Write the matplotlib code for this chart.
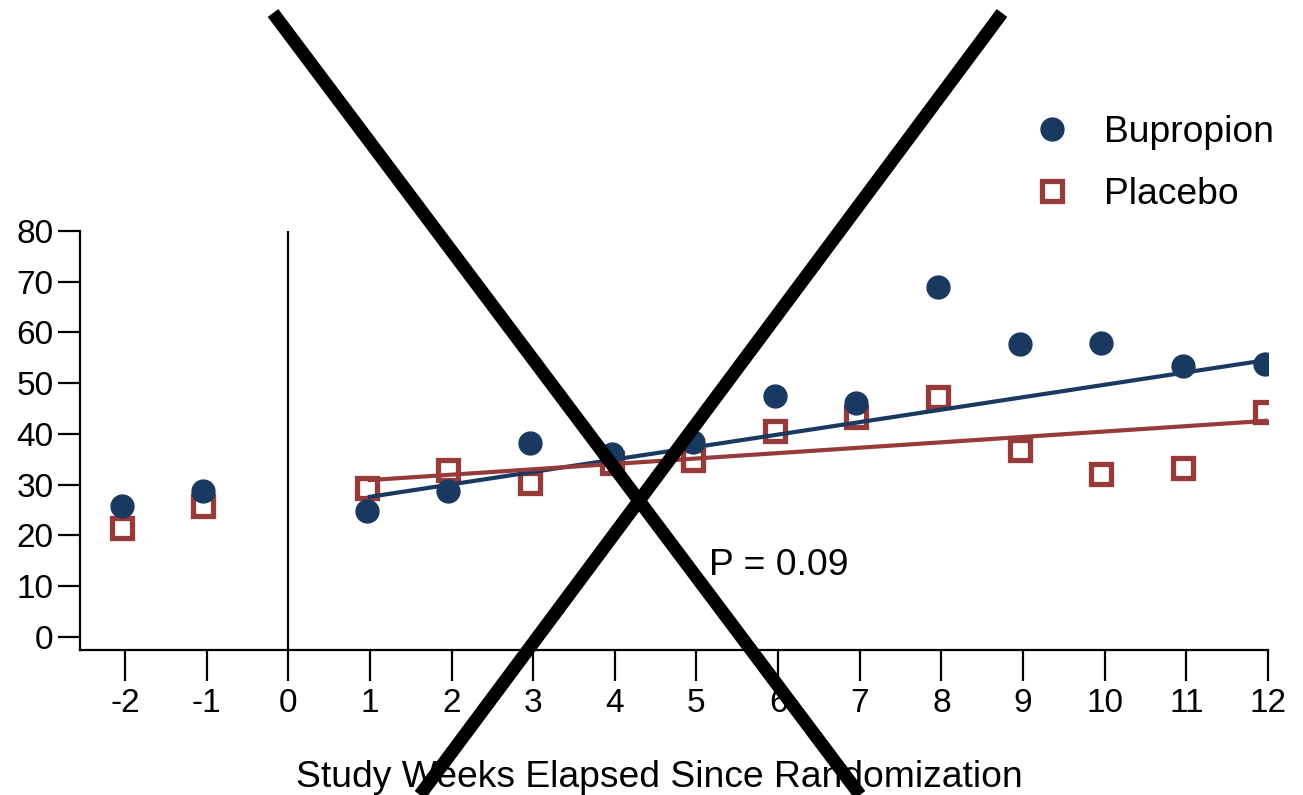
import matplotlib
matplotlib.use("Agg")
import matplotlib.pyplot as plt
from matplotlib.lines import Line2D

plt.rcParams["font.family"] = ["Liberation Sans", "DejaVu Sans"]

weeks = [-2, -1, 1, 2, 3, 4, 5, 6, 7, 8, 9, 10, 11, 12]
bupropion = [25.8, 28.8, 24.8, 28.7, 38.2, 36.0, 38.4, 47.4, 46.0, 69.0, 57.7, 57.9, 53.3, 53.7]
placebo = [21.4, 25.8, 29.4, 32.8, 30.4, 34.2, 34.8, 40.5, 43.3, 47.3, 36.9, 32.0, 33.2, 44.3]

# fitted trend lines over the post-randomization weeks (start, end)
fit_weeks = [1, 12]
bupropion_fit = [27.6, 54.6]
placebo_fit = [30.9, 42.6]

x_ticks = list(range(-2, 13))
y_ticks = list(range(0, 81, 10))
p_label = "P = 0.09"

BLUE = "#1a3961"
RED = "#963a3a"

W, H = 1303, 795
fig = plt.figure(figsize=(W / 100, H / 100), dpi=100)
ax = fig.add_axes([80 / W, 1 - 650 / H, (1268 - 80) / W, (650 - 231) / H])

ax.set_xlim(-2.55, 12)
ax.set_ylim(-2.6, 80)

shift = -0.04
ax.plot([w + shift for w in weeks], placebo, linestyle="none", marker="s", markersize=14,
        markerfacecolor="white", markeredgecolor=RED, markeredgewidth=3.8, zorder=3)
ax.plot([w + shift for w in weeks], bupropion, linestyle="none", marker="o", markersize=16.5,
        color=BLUE, zorder=4)
ax.plot(fit_weeks, bupropion_fit, color=BLUE, linewidth=3, zorder=5)
ax.plot(fit_weeks, placebo_fit, color=RED, linewidth=3, zorder=5)

ax.axvline(0, color="black", linewidth=1.6, zorder=2)

for side in ("top", "right"):
    ax.spines[side].set_visible(False)
ax.spines["left"].set_linewidth(1.6)
ax.spines["bottom"].set_linewidth(1.6)

ax.set_xticks(x_ticks)
ax.set_xticklabels([str(t) for t in x_ticks])
ax.set_yticks(y_ticks)
ax.tick_params(axis="y", length=16, width=1.6, labelsize=24, pad=3)
ax.tick_params(axis="x", length=22, width=1.6, labelsize=24, pad=5)

ax.set_xlabel("Study Weeks Elapsed Since Randomization", fontsize=26.8, labelpad=30)
ax.xaxis.label.set_x(0.488)

ax.text(5.15, 14.0, p_label, fontsize=26.8, ha="left", va="center")

handles = [
    Line2D([], [], linestyle="none", marker="o", markersize=16.5, color=BLUE),
    Line2D([], [], linestyle="none", marker="s", markersize=14, markerfacecolor="white",
           markeredgecolor=RED, markeredgewidth=3.8),
]
fig.legend(handles, ["Bupropion", "Placebo"], loc="upper left", bbox_to_anchor=(1015 / W, 1 - 100 / H),
           frameon=False, fontsize=26.8, handlelength=1.2, handletextpad=0.78, labelspacing=0.74,
           borderaxespad=0)

# big crossing lines drawn over the whole figure
cross_a = ([273 / W, 860 / W], [1 - 13 / H, 0])
cross_b = ([1002 / W, 420 / W], [1 - 13 / H, 0])
for xs, ys in (cross_a, cross_b):
    fig.add_artist(Line2D(xs, ys, transform=fig.transFigure, color="black", linewidth=9.5,
                          solid_capstyle="butt", zorder=10))

fig.savefig("out.png", dpi=100)
